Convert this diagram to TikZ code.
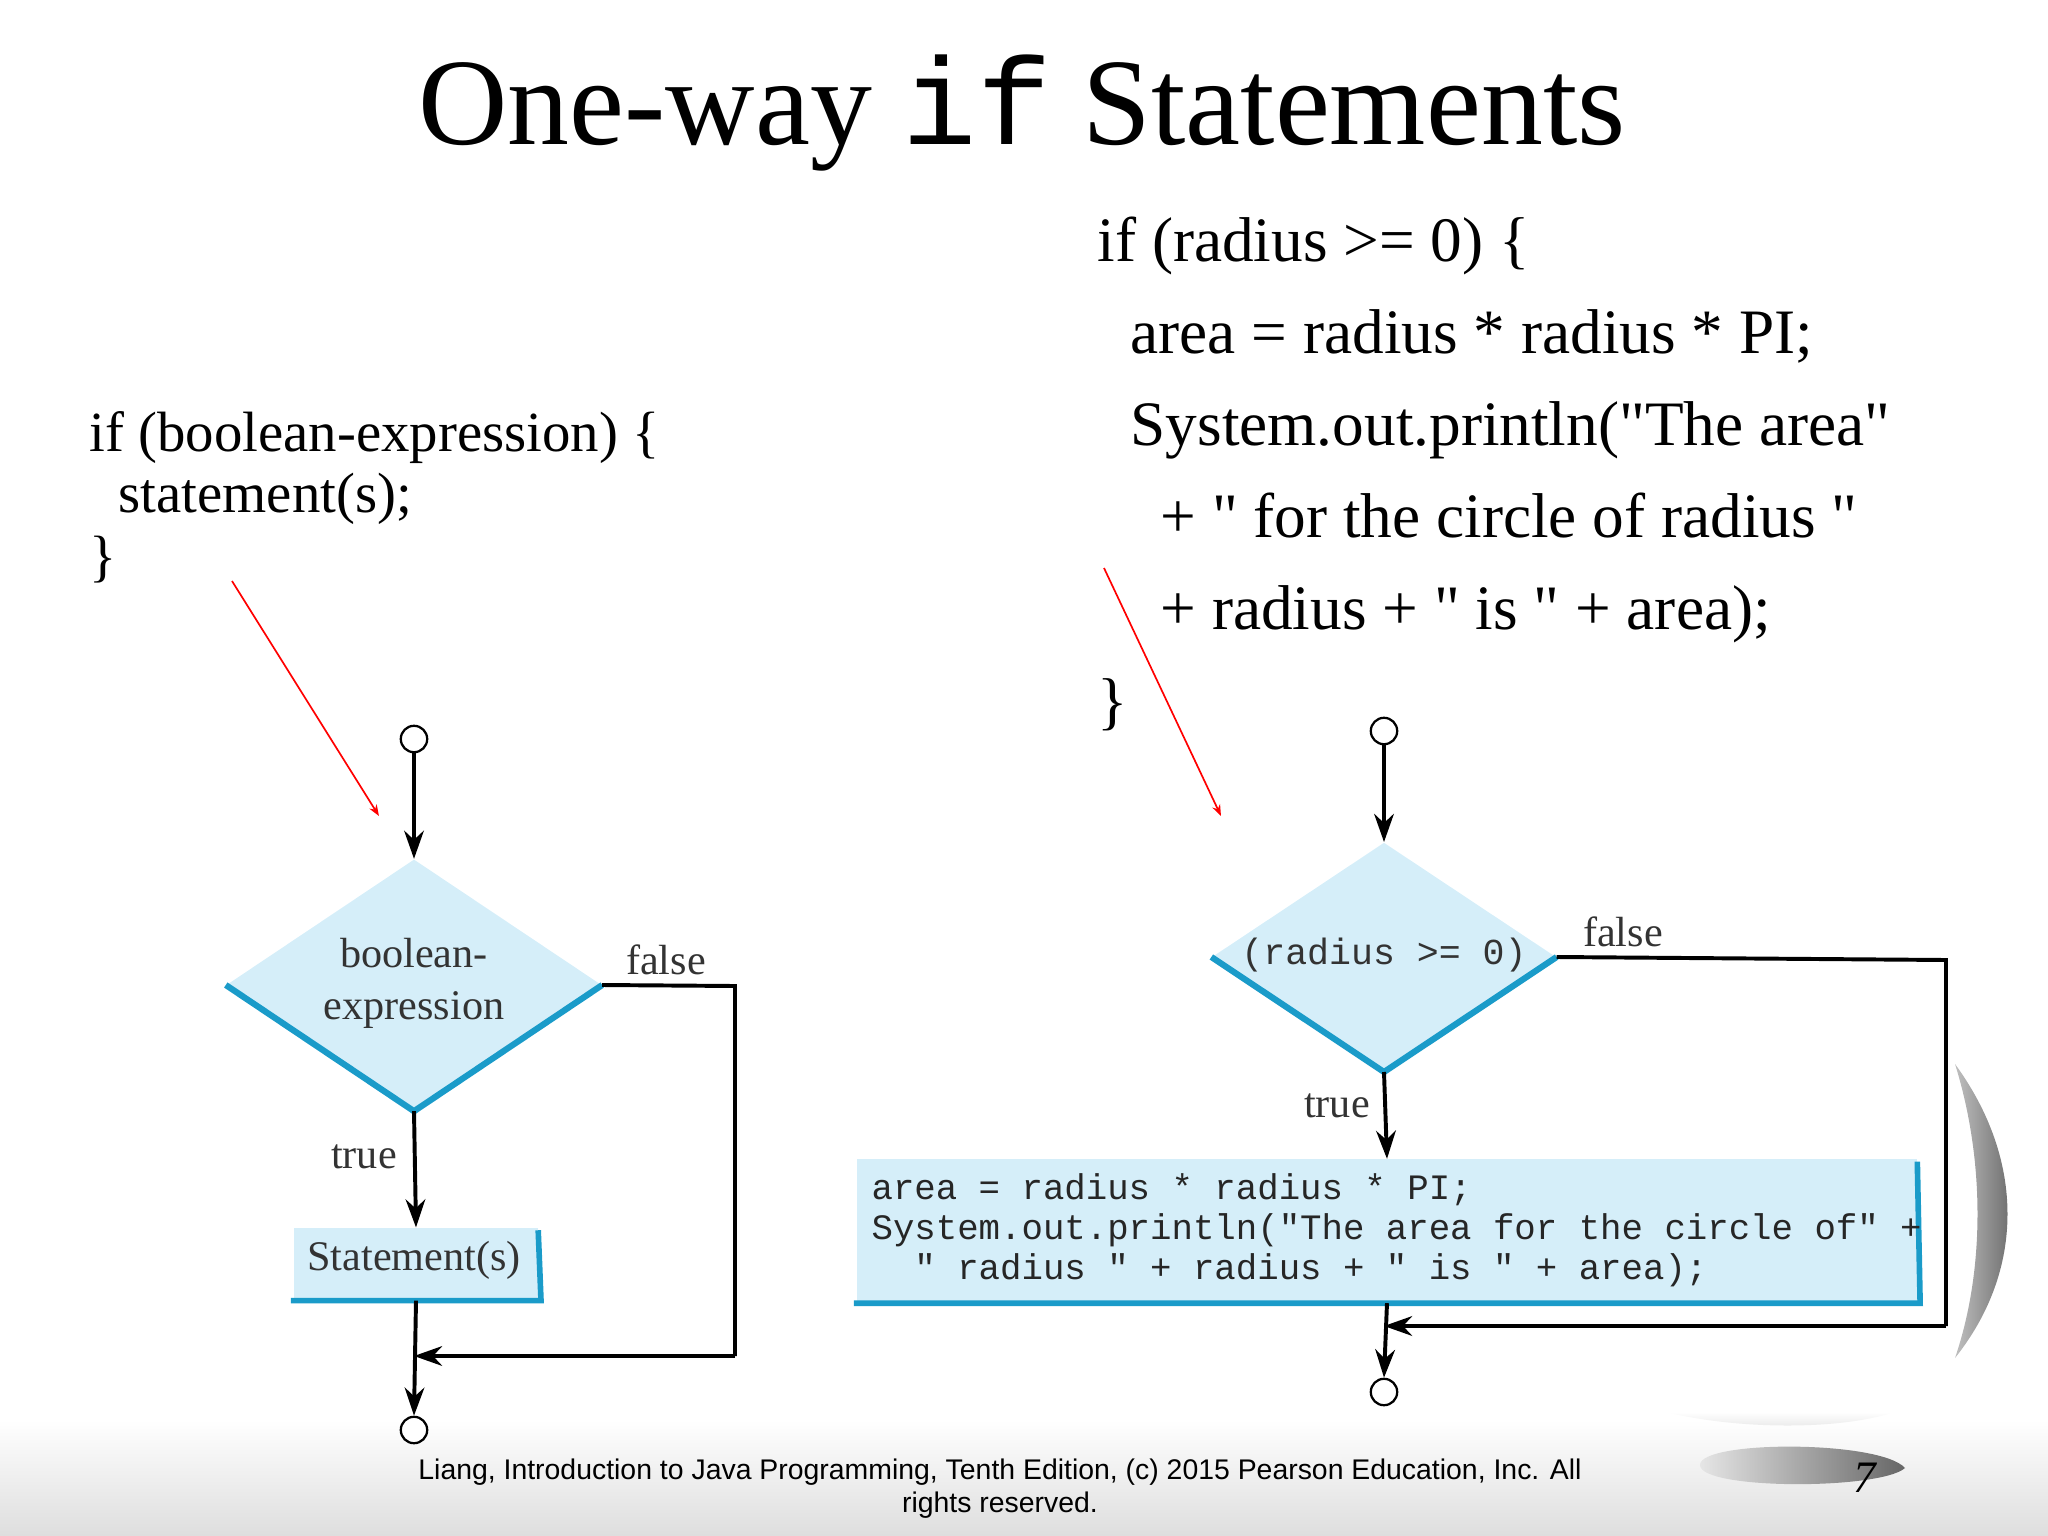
\documentclass[tikz,border=0pt]{standalone}
\usepackage{fontspec}
\setmainfont{Liberation Serif}
\setmonofont{Liberation Mono}
\newfontfamily\codeserif{Liberation Serif}
\newfontfamily\arialf{Liberation Sans}
\usetikzlibrary{shapes.geometric,arrows.meta}
\definecolor{lblue}{HTML}{D5EEF9}
\definecolor{dblue}{HTML}{1A9BC9}
\tikzset{
  flow/.style={line width=1.4pt,-{Stealth[length=10pt,width=7pt]}},
  loopl/.style={line width=1.4pt},
  redarr/.style={red,line width=0.6pt,-{Stealth[length=4pt,width=3pt]}},
  term/.style={circle,draw,line width=0.8pt,minimum size=0.33cm,inner sep=0pt,fill=white},
  dec/.style={diamond,fill=lblue,inner sep=0pt},
  proc/.style={rectangle,fill=lblue,inner sep=0pt},
  lab/.style={font=\fontsize{15}{17}\selectfont,text=black!80},
  code/.style={anchor=base west,font=\codeserif\fontsize{22.5}{26}\selectfont,inner sep=0pt},
  lcode/.style={anchor=base west,font=\codeserif\fontsize{20.2}{24}\selectfont,inner sep=0pt},
}
\begin{document}
\begin{tikzpicture}[x=0.0125cm,y=-0.0125cm]
\useasboundingbox (0,0) rectangle (2048,1536);
% footer band
\shade[top color=white,bottom color=black!13] (0,1420) rectangle (2048,1536);
% decorative arcs
\shade[left color=black!25,right color=black!65] (1955,1064) .. controls (2025,1160) and (2025,1270) .. (1955,1358) .. controls (1985,1270) and (1985,1160) .. (1955,1064) -- cycle;
\shade[top color=white,bottom color=black!10] (1665,1412) .. controls (1740,1430) and (1840,1430) .. (1895,1412) -- cycle;
\shade[left color=black!10,right color=black!60] (1700,1465) .. controls (1700,1440) and (1880,1440) .. (1905,1468) .. controls (1880,1490) and (1700,1490) .. (1700,1465) -- cycle;
\node[anchor=base,font=\fontsize{16}{18}\selectfont\itshape] (pg) at (1865,1492) {7};
% title
\node[anchor=base,inner sep=0pt,font=\fontsize{44}{48}\selectfont] (title) at (1022,144) {One-way \texttt{if} Statements};
% left code
\node[lcode] (l1) at (89,451) {if (boolean-expression) \{};
\node[lcode] (l2) at (118,512) {statement(s);};
\node[lcode] (l3) at (89,575) {\}};
% right code
\node[code] (r1) at (1097,261) {if (radius >= 0) \{};
\node[code] (r2) at (1130,353) {area = radius * radius * PI;};
\node[code] (r3) at (1130,445) {System.out.println("The area"};
\node[code] (r4) at (1160,537) {+ " for the circle of radius "};
\node[code] (r5) at (1160,629) {+ radius + " is " + area);};
\node[code] (r6) at (1097,722) {\}};
% red arrows
\coordinate (ra1) at (232,581); \coordinate (ra2) at (379,816);
\coordinate (rb1) at (1104,568); \coordinate (rb2) at (1221,816);
\draw[redarr] (ra1) -- (ra2);
\draw[redarr] (rb1) -- (rb2);
% ---- left flowchart
\node[term] (ls) at (414,739) {};
\node[dec,minimum width=4.69cm,minimum height=3.14cm] (ld) at (414,985) {};
\node[lab,align=center,font=\fontsize{15}{18.5}\selectfont] (ldt) at (414,983) {boolean-\\expression};
\draw[dblue,line width=2.2pt] (ld.west) -- (ld.south) -- (ld.east);
\node[proc,minimum width=3.04cm,minimum height=0.9cm] (lb) at (416,1264) {};
\draw[dblue,line width=2pt] ([xshift=-1pt]lb.south west) -- ([xshift=1pt]lb.south east) -- ([yshift=-1pt]lb.north east);
\node[lab] (lbt) at (414,1260) {Statement(s)};
\node[term] (le) at (414,1430) {};
\draw[flow] (ls) -- (ld.north);
\draw[flow] (ld.south) -- (lb.north);
\coordinate (lj) at (414,1356);
\coordinate (lr1) at (735,986);
\coordinate (lr2) at (735,1356);
\draw[flow] (lb.south) -- (le.north);
\draw[loopl] (ld.east) -- (lr1) -- (lr2);
\draw[flow] (lr2) -- (lj);
\node[lab] (lf) at (666,960) {false};
\node[lab] (lt) at (364,1157) {true};
% ---- right flowchart
\node[term] (rs) at (1384,731) {};
\node[dec,minimum width=4.3cm,minimum height=2.86cm] (rd) at (1384,957) {};
\draw[dblue,line width=2.2pt] (rd.west) -- (rd.south) -- (rd.east);
\node[font=\ttfamily\fontsize{13}{15}\selectfont,text=black!80] (rdt) at (1384,955) {(radius >= 0)};
\node[proc,minimum width=13.24cm,minimum height=1.79cm] (rb) at (1387,1231) {};
\draw[dblue,line width=2pt] ([xshift=-1pt]rb.south west) -- ([xshift=1pt]rb.south east) -- ([yshift=-1pt]rb.north east);
\node[anchor=north west,inner sep=0pt,align=left,font=\ttfamily\fontsize{12.7}{14.2}\selectfont,text=black!85] (rbt) at (871,1173) {area = radius * radius * PI;\\System.out.println("The area for the circle of" +\\\ \ " radius " + radius + " is " + area);};
\node[term] (re) at (1384,1392) {};
\draw[flow] (rs) -- (rd.north);
\draw[flow] (rd.south) -- (rb.north);
\draw[flow] (rb.south) -- (re.north);
\coordinate (rr1) at (1946,960);
\coordinate (rr2) at (1946,1326);
\coordinate (rj) at (1384,1326);
\draw[loopl] (rd.east) -- (rr1) -- (rr2);
\draw[flow] (rr2) -- (rj);
\node[lab] (rf) at (1623,932) {false};
\node[lab] (rt) at (1337,1106) {true};
% footer text
\node[anchor=north,inner sep=0pt,font=\arialf\fontsize{10.1}{12}\selectfont,align=center] (ft) at (1000,1458) {Liang, Introduction to Java Programming, Tenth Edition, (c) 2015 Pearson Education, Inc. All\\rights reserved.};
\end{tikzpicture}
\end{document}
